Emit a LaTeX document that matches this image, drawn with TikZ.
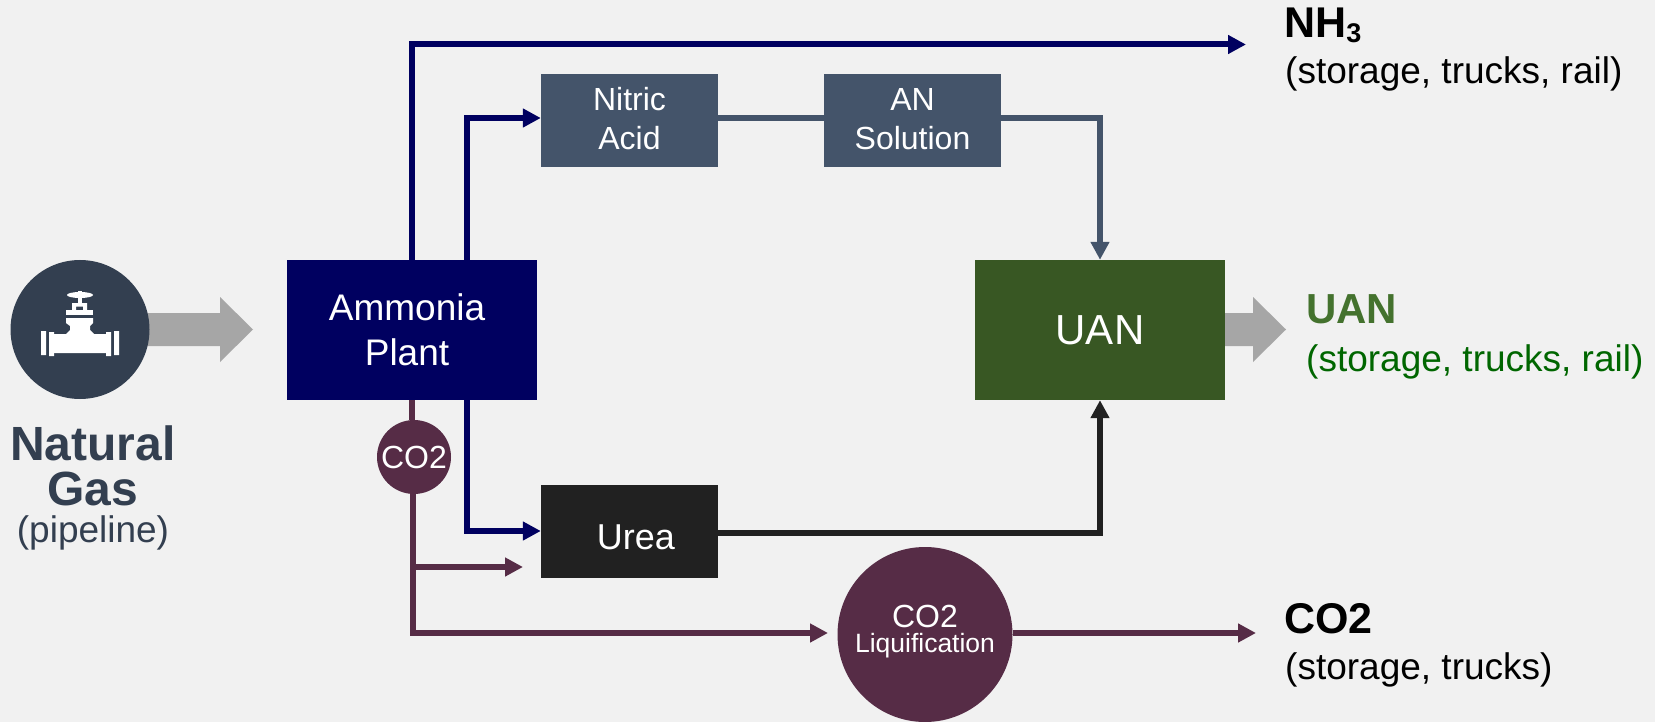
\documentclass[tikz,border=0pt]{standalone}
\usepackage{fontspec}
\setmainfont{Liberation Sans}
\usetikzlibrary{arrows.meta,calc}
\definecolor{bgc}{HTML}{F1F1F1}
\definecolor{navyc}{HTML}{000060}
\definecolor{slatec}{HTML}{44546A}
\definecolor{darkslate}{HTML}{333F50}
\definecolor{greenc}{HTML}{385723}
\definecolor{uangreen}{HTML}{006600}
\definecolor{uanbold}{HTML}{44722E}
\definecolor{blackc}{HTML}{212121}
\definecolor{plumc}{HTML}{562C46}
\definecolor{grayc}{HTML}{A6A6A6}
\newcommand{\fs}[1]{\fontsize{#1}{#1}\selectfont}
\tikzset{
  x=1pt,y=-1pt,
  boxs/.style={rectangle,inner sep=0pt,text=white,align=center,font=\fs{32}},
  flowline/.style={line width=6pt,line join=miter},
  tip/.style={-{Triangle[length=18pt,width=18pt]}},
  lab/.style={anchor=base west,inner sep=0pt,align=left,font=\fs{37}},
  blockarrow/.style={fill=grayc,draw=none},
}
\begin{document}
\begin{tikzpicture}
\useasboundingbox (0,0) rectangle (1655,722);
\fill[bgc] (0,0) rectangle (1655,722);

% gray arrows
\fill[blockarrow] (140,313) -- (220,313) -- (220,297) -- (253,329.5) -- (220,362) -- (220,346) -- (140,346) -- cycle;
\fill[blockarrow] (1220,313) -- (1253,313) -- (1253,297) -- (1286,329.5) -- (1253,362) -- (1253,346) -- (1220,346) -- cycle;

% nodes
\node[boxs,fill=navyc,minimum width=250pt,minimum height=140pt,font=\fs{37}] (plant) at (412,330) {\hspace{-10pt}Ammonia\\[8pt]\hspace{-10pt}Plant};
\node[boxs,fill=slatec,minimum width=177pt,minimum height=93pt,text depth=4pt] (nitric) at (629.5,120.5) {Nitric\\[7pt]Acid};
\node[boxs,fill=slatec,minimum width=177pt,minimum height=93pt,text depth=4pt] (an) at (912.5,120.5) {AN\\[7pt]Solution};
\node[boxs,fill=greenc,minimum width=250pt,minimum height=140pt,font=\fs{42}] (uan) at (1100,330) {UAN};
\node[boxs,fill=blackc,minimum width=177pt,minimum height=93pt,font=\fs{36}] (urea) at (629.5,531.5) {\hspace{13pt}\raisebox{-18pt}[14pt][14pt]{Urea}};
\node[circle,fill=plumc,minimum size=74pt,inner sep=0pt,text=white,font=\fs{32}] (co2c) at (414,457) {CO2};
\node[circle,fill=plumc,minimum size=175pt,inner sep=0pt,text=white,align=center,text depth=11pt] (liq) at (925,634.5) {\fs{32}CO2\\[4pt]\fs{26.5}Liquification};
\node[circle,fill=darkslate,minimum size=139pt,inner sep=0pt] (gas) at (80,329.5) {};

% valve icon
\begin{scope}[white]
\fill (80,295) ellipse [x radius=13, y radius=3];
\fill (78,291) rectangle (82,303);
\fill[even odd rule] (72,303) rectangle (87,310) (76,306.5) rectangle (83,310);
\fill (66,310) rectangle (93,314.5);
\fill (66,318) -- (93,318) -- (93,323) -- (90,326) -- (90,330) -- (94,334) -- (106,334) -- (106,353) -- (54,353) -- (54,334) -- (66,334) -- (70,330) -- (70,326) -- (66,323) -- cycle;
\fill (49,332) rectangle (54,356) (106,332) rectangle (111,356);
\fill (41,331) rectangle (46,355) (114,331) rectangle (119,355);
\end{scope}

% free ends
\coordinate (nh3end) at (1246,44.5);
\coordinate (co2mid) at (523,567);
\coordinate (liqin) at (828,633);
\coordinate (co2out) at (1256,633);

% connectors
\draw[flowline,navyc,tip] (plant.north -| 412,0) |- (nh3end);
\draw[flowline,navyc,tip] (plant.north -| 467,0) |- (nitric.west |- 0,118);
\draw[flowline,navyc,tip] (plant.south -| 467,0) |- (urea.west |- 0,531);
\draw[flowline,plumc] (plant.south -| 412,0) -- (co2c.north -| 412,0);
\draw[flowline,plumc,tip] (co2c.south -| 413,0) |- (co2mid);
\draw[flowline,plumc,tip] (co2c.south -| 413,0) |- (liqin);
\draw[flowline,slatec] (nitric.east |- 0,118) -- (an.west |- 0,118);
\draw[flowline,slatec,tip] (an.east |- 0,118) -| (uan.north);
\draw[flowline,blackc,tip] (urea.east |- 0,533) -| (uan.south);
\draw[flowline,plumc,tip] (liq.east |- 0,633) -- (co2out);

% labels
\node[anchor=base,inner sep=0pt,align=center,text=darkslate] (gaslab) at (93,542) {\fs{48}\bfseries Natural\\[10pt]\fs{48}\bfseries Gas\\[8.5pt]\fs{37}(pipeline)};
\node[lab] (nh3) at (1284,38) {\fs{43}\bfseries NH\raisebox{-4.5pt}{\fs{27}3}};
\node[lab] (nh3s) at (1285,84) {(storage, trucks, rail)};
\node[lab,text=uanbold] (uanl) at (1306,323) {\fs{42}\bfseries UAN};
\node[lab,text=uangreen] (uans) at (1306,371) {(storage, trucks, rail)};
\node[lab] (co2l) at (1284,633) {\fs{43}\bfseries CO2};
\node[lab] (co2s) at (1285,679) {(storage, trucks)};
\end{tikzpicture}
\end{document}
